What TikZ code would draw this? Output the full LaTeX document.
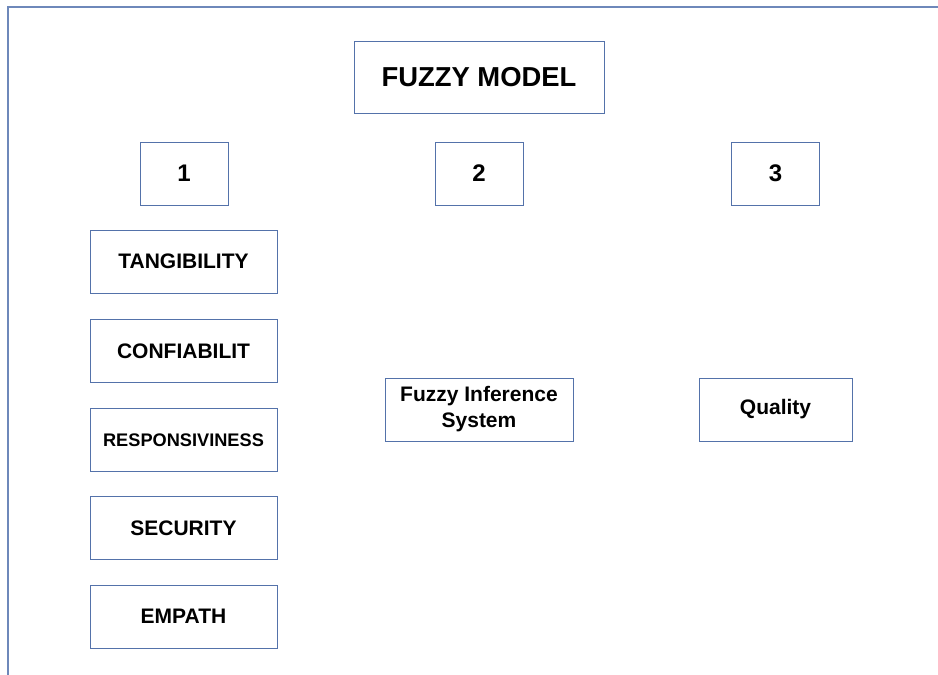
\documentclass[tikz,border=0pt]{standalone}
\usepackage{fontspec}
\setmainfont{Liberation Sans}
\definecolor{boxblue}{RGB}{84,114,170}
\definecolor{frameblue}{RGB}{110,136,186}
\begin{document}
\begin{tikzpicture}[x=1pt,y=-1pt,
  box/.style={draw=boxblue,line width=1pt,fill=white,inner sep=0pt,align=center,font=\bfseries\fontsize{21}{26}\selectfont},
  leftbox/.style={box,minimum width=187pt,minimum height=63pt},
  numbox/.style={box,minimum width=88pt,minimum height=63pt,font=\bfseries\fontsize{24}{28}\selectfont}]
\useasboundingbox[fill=white] (0,0) rectangle (938,675);
\coordinate (ftl) at (8,7);
\coordinate (ftr) at (938,7);
\coordinate (fbl) at (8,675);
\draw[frameblue,line width=2pt] (fbl) -- (ftl) -- (ftr);
\node[box,minimum width=250pt,minimum height=72pt,font=\bfseries\fontsize{27.4}{32}\selectfont] (title) at (479,77) {FUZZY MODEL};
\node[numbox] (n1) at (184,173.5) {1};
\node[numbox] (n2) at (479,173.5) {2};
\node[numbox] (n3) at (775.5,173.5) {3};
\node[leftbox] (tang) at (183.5,261.5) {TANGIBILITY};
\node[leftbox] (conf) at (183.5,351) {CONFIABILIT};
\node[leftbox,font=\bfseries\fontsize{18.2}{22}\selectfont] (resp) at (183.5,440) {RESPONSIVINESS};
\node[leftbox] (secu) at (183.5,528) {SECURITY};
\node[leftbox] (empa) at (183.5,616.5) {EMPATH};
\node[box,minimum width=188pt,minimum height=63pt] (fis) at (479,409.5) {Fuzzy Inference\\System};
\node[box,minimum width=153pt,minimum height=63pt] (qual) at (775.5,409.5) {Quality};
\end{tikzpicture}
\end{document}
